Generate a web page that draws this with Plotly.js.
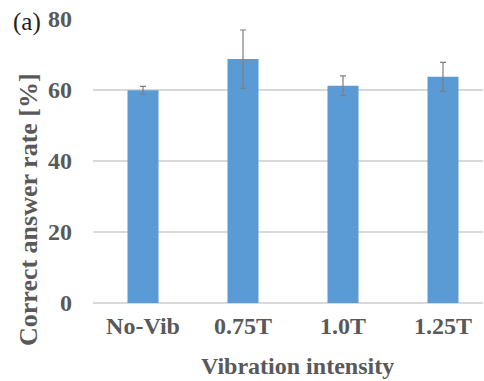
<!DOCTYPE html>
<html>
<head>
<meta charset="utf-8">
<script src="https://cdn.plot.ly/plotly-3.0.1.min.js"></script>
<style>html,body{margin:0;padding:0;background:#fff;}#chart{width:484px;height:381px;}</style>
</head>
<body>
<div id="chart"></div>
<script>
const categories = ["No-Vib", "0.75T", "1.0T", "1.25T"];
const correctRate = [59.9, 68.7, 61.2, 63.7];
const errorValues = [1.1, 8.2, 2.8, 4.1];
const yTickValues = [0, 20, 40, 60, 80];

const FONT = "Liberation Serif, Times New Roman, serif";
const GRAY = "#595959";

const trace = {
  type: "bar",
  x: categories,
  y: correctRate,
  marker: { color: "#5b9bd5" },
  error_y: { type: "data", array: errorValues, visible: true, color: "#7f7f7f", thickness: 1.2, width: 3 },
  hoverinfo: "skip"
};

function px2x(p) { return (p - 93) / 390; }
function px2y(p) { return (303 - p) / 284; }

const layout = {
  width: 484, height: 381,
  margin: { l: 93, r: 1, t: 19, b: 78, pad: 0 },
  paper_bgcolor: "#fff", plot_bgcolor: "#fff",
  showlegend: false,
  bargap: 0.69,
  font: { family: FONT, color: GRAY },
  xaxis: {
    type: "category",
    range: [-0.5, 3.4],
    showgrid: false, zeroline: false, showline: false, ticks: "",
    tickfont: { family: FONT, size: 24, color: GRAY, weight: "bold" },
    ticklabelstandoff: 6
  },
  yaxis: {
    range: [0, 80],
    tickvals: yTickValues,
    ticktext: yTickValues.map(String),
    showgrid: true, gridcolor: "#d9d9d9", gridwidth: 1.3,
    zeroline: true, zerolinecolor: "#d9d9d9", zerolinewidth: 1.3,
    showline: false, ticks: "",
    ticklabelstandoff: 20,
    tickfont: { family: FONT, size: 24, color: GRAY, weight: "bold" }
  },
  annotations: [
    {
      text: "Vibration intensity",
      xref: "paper", yref: "paper",
      x: px2x(297), y: px2y(366),
      xanchor: "center", yanchor: "middle", showarrow: false,
      font: { family: FONT, size: 24, color: GRAY, weight: "bold" }
    },
    {
      text: "Correct answer rate [%]", textangle: -90,
      xref: "paper", yref: "paper",
      x: px2x(28), y: px2y(210),
      xanchor: "center", yanchor: "middle", showarrow: false,
      font: { family: FONT, size: 26, color: GRAY, weight: "bold" }
    },
    {
      text: "(a)", xref: "paper", yref: "paper",
      x: px2x(27), y: px2y(22), xanchor: "center", yanchor: "middle", showarrow: false,
      font: { family: FONT, size: 25, color: "#222" }
    }
  ]
};

Plotly.newPlot("chart", [trace], layout, { staticPlot: true, displayModeBar: false });
</script>
</body>
</html>
